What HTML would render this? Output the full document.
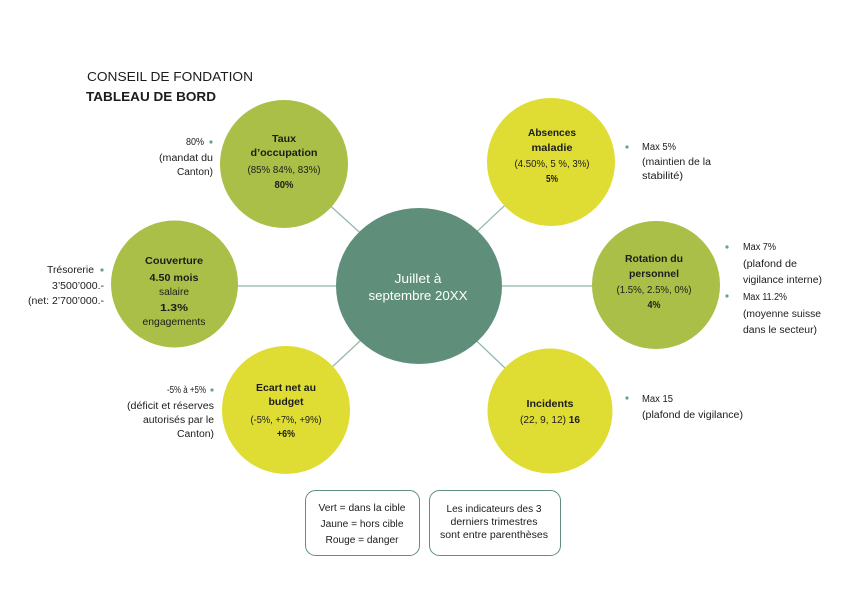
<!DOCTYPE html>
<html>
<head>
<meta charset="utf-8">
<style>
html,body{margin:0;padding:0;background:#fff;}
svg{display:block;}
text{font-family:"Liberation Sans",Arial,sans-serif;fill:#1c1c1c;}
.b{font-weight:bold;}
.c{text-anchor:middle;}
.r{text-anchor:end;}
</style>
</head>
<body>
<svg width="841" height="595" viewBox="0 0 841 595" xmlns="http://www.w3.org/2000/svg">
<rect width="841" height="595" fill="#fff"/>

<!-- title -->
<text x="87" y="81" font-size="13" textLength="166" lengthAdjust="spacingAndGlyphs">CONSEIL DE FONDATION</text>
<text x="86" y="101" font-size="13" class="b" textLength="130" lengthAdjust="spacingAndGlyphs">TABLEAU DE BORD</text>

<!-- connectors -->
<g stroke="#8fb5a8" stroke-width="1.2">
<line x1="419" y1="286" x2="284" y2="164"/>
<line x1="419" y1="286" x2="551" y2="162"/>
<line x1="419" y1="286" x2="174" y2="286"/>
<line x1="419" y1="286" x2="656" y2="286"/>
<line x1="419" y1="286" x2="286" y2="410"/>
<line x1="419" y1="286" x2="550" y2="411"/>
</g>

<!-- circles -->
<circle cx="284" cy="164" r="64" fill="#aabf47"/>
<circle cx="551" cy="162" r="64" fill="#dfdd34"/>
<circle cx="174.5" cy="284" r="63.5" fill="#aabf47"/>
<circle cx="656" cy="285" r="64" fill="#aabf47"/>
<circle cx="286" cy="410" r="64" fill="#dfdd34"/>
<circle cx="550" cy="411" r="62.5" fill="#dfdd34"/>
<ellipse cx="419" cy="286" rx="83" ry="78" fill="#5f8f7b"/>

<!-- center text -->
<text x="418" y="283" font-size="12.5" class="c" fill="#fff" style="fill:#fff" textLength="47" lengthAdjust="spacingAndGlyphs">Juillet à</text>
<text x="418" y="300" font-size="12.5" class="c" style="fill:#fff" textLength="99" lengthAdjust="spacingAndGlyphs">septembre 20XX</text>

<!-- Taux -->
<text x="284" y="142" font-size="10.5" class="b c" textLength="24" lengthAdjust="spacingAndGlyphs">Taux</text>
<text x="284" y="156" font-size="10.5" class="b c" textLength="67" lengthAdjust="spacingAndGlyphs">d’occupation</text>
<text x="284" y="173" font-size="10.5" class="c" textLength="73" lengthAdjust="spacingAndGlyphs">(85% 84%, 83%)</text>
<text x="284" y="188" font-size="10.5" class="b c" textLength="19" lengthAdjust="spacingAndGlyphs">80%</text>

<!-- Absences -->
<text x="552" y="136" font-size="10.5" class="b c" textLength="48" lengthAdjust="spacingAndGlyphs">Absences</text>
<text x="552" y="151" font-size="10.5" class="b c" textLength="41" lengthAdjust="spacingAndGlyphs">maladie</text>
<text x="552" y="167" font-size="10.5" class="c" textLength="75" lengthAdjust="spacingAndGlyphs">(4.50%, 5 %, 3%)</text>
<text x="552" y="182" font-size="10.5" class="b c" textLength="12" lengthAdjust="spacingAndGlyphs">5%</text>

<!-- Couverture -->
<text x="174" y="264" font-size="10.5" class="b c" textLength="58" lengthAdjust="spacingAndGlyphs">Couverture</text>
<text x="174" y="281" font-size="10.5" class="b c" textLength="49" lengthAdjust="spacingAndGlyphs">4.50 mois</text>
<text x="174" y="295" font-size="10.5" class="c" textLength="30" lengthAdjust="spacingAndGlyphs">salaire</text>
<text x="174" y="311" font-size="10.5" class="b c" textLength="28" lengthAdjust="spacingAndGlyphs">1.3%</text>
<text x="174" y="325" font-size="10.5" class="c" textLength="63" lengthAdjust="spacingAndGlyphs">engagements</text>

<!-- Rotation -->
<text x="654" y="262" font-size="10.5" class="b c" textLength="58" lengthAdjust="spacingAndGlyphs">Rotation du</text>
<text x="654" y="277" font-size="10.5" class="b c" textLength="50" lengthAdjust="spacingAndGlyphs">personnel</text>
<text x="654" y="293" font-size="10.5" class="c" textLength="75" lengthAdjust="spacingAndGlyphs">(1.5%, 2.5%, 0%)</text>
<text x="654" y="308" font-size="10.5" class="b c" textLength="13" lengthAdjust="spacingAndGlyphs">4%</text>

<!-- Ecart -->
<text x="286" y="391" font-size="10.5" class="b c" textLength="60" lengthAdjust="spacingAndGlyphs">Ecart net au</text>
<text x="286" y="405" font-size="10.5" class="b c" textLength="35" lengthAdjust="spacingAndGlyphs">budget</text>
<text x="286" y="423" font-size="10.5" class="c" textLength="71" lengthAdjust="spacingAndGlyphs">(-5%, +7%, +9%)</text>
<text x="286" y="437" font-size="10.5" class="b c" textLength="18" lengthAdjust="spacingAndGlyphs">+6%</text>

<!-- Incidents -->
<text x="550" y="407" font-size="10.5" class="b c" textLength="47" lengthAdjust="spacingAndGlyphs">Incidents</text>
<text x="550" y="423" font-size="10.5" class="c" textLength="60" lengthAdjust="spacingAndGlyphs">(22, 9, 12) <tspan font-weight="bold">16</tspan></text>

<!-- bullets -->
<g fill="#6f9e8e">
<circle cx="211" cy="142" r="1.6"/>
<circle cx="627" cy="147" r="1.6"/>
<circle cx="102" cy="270" r="1.6"/>
<circle cx="727" cy="247" r="1.6"/>
<circle cx="727" cy="296" r="1.6"/>
<circle cx="212" cy="390" r="1.6"/>
<circle cx="627" cy="398" r="1.6"/>
</g>

<!-- notes left -->
<text x="204" y="145" font-size="10" class="r" textLength="18" lengthAdjust="spacingAndGlyphs">80%</text>
<text x="213" y="161" font-size="10" class="r" textLength="54" lengthAdjust="spacingAndGlyphs">(mandat du</text>
<text x="213" y="175" font-size="10" class="r" textLength="36" lengthAdjust="spacingAndGlyphs">Canton)</text>

<text x="94" y="273" font-size="10" class="r" textLength="47" lengthAdjust="spacingAndGlyphs">Trésorerie</text>
<text x="104" y="289" font-size="10" class="r" textLength="52" lengthAdjust="spacingAndGlyphs">3’500’000.-</text>
<text x="104" y="304" font-size="10" class="r" textLength="76" lengthAdjust="spacingAndGlyphs">(net: 2’700’000.-</text>

<text x="206" y="393" font-size="10" class="r" textLength="39" lengthAdjust="spacingAndGlyphs">-5% à +5%</text>
<text x="214" y="409" font-size="10" class="r" textLength="87" lengthAdjust="spacingAndGlyphs">(déficit et réserves</text>
<text x="214" y="423" font-size="10" class="r" textLength="71" lengthAdjust="spacingAndGlyphs">autorisés par le</text>
<text x="214" y="437" font-size="10" class="r" textLength="37" lengthAdjust="spacingAndGlyphs">Canton)</text>

<!-- notes right -->
<text x="642" y="150" font-size="10" textLength="34" lengthAdjust="spacingAndGlyphs">Max 5%</text>
<text x="642" y="165" font-size="10" textLength="69" lengthAdjust="spacingAndGlyphs">(maintien de la</text>
<text x="642" y="179" font-size="10" textLength="41" lengthAdjust="spacingAndGlyphs">stabilité)</text>

<text x="743" y="250" font-size="10" textLength="33" lengthAdjust="spacingAndGlyphs">Max 7%</text>
<text x="743" y="267" font-size="10" textLength="54" lengthAdjust="spacingAndGlyphs">(plafond de</text>
<text x="743" y="283" font-size="10" textLength="79" lengthAdjust="spacingAndGlyphs">vigilance interne)</text>
<text x="743" y="300" font-size="10" textLength="44" lengthAdjust="spacingAndGlyphs">Max 11.2%</text>
<text x="743" y="317" font-size="10" textLength="78" lengthAdjust="spacingAndGlyphs">(moyenne suisse</text>
<text x="743" y="333" font-size="10" textLength="74" lengthAdjust="spacingAndGlyphs">dans le secteur)</text>

<text x="642" y="402" font-size="10" textLength="31" lengthAdjust="spacingAndGlyphs">Max 15</text>
<text x="642" y="418" font-size="10" textLength="101" lengthAdjust="spacingAndGlyphs">(plafond de vigilance)</text>

<!-- legend boxes -->
<rect x="305.5" y="490.5" width="114" height="65" rx="10" ry="10" fill="#fff" stroke="#5f8f7b" stroke-width="1"/>
<rect x="429.5" y="490.5" width="131" height="65" rx="10" ry="10" fill="#fff" stroke="#5f8f7b" stroke-width="1"/>
<text x="362" y="511" font-size="10" class="c" textLength="87" lengthAdjust="spacingAndGlyphs">Vert = dans la cible</text>
<text x="362" y="527" font-size="10" class="c" textLength="83" lengthAdjust="spacingAndGlyphs">Jaune = hors cible</text>
<text x="362" y="543" font-size="10" class="c" textLength="73" lengthAdjust="spacingAndGlyphs">Rouge = danger</text>
<text x="494" y="512" font-size="10" class="c" textLength="95" lengthAdjust="spacingAndGlyphs">Les indicateurs des 3</text>
<text x="494" y="525" font-size="10" class="c" textLength="87" lengthAdjust="spacingAndGlyphs">derniers trimestres</text>
<text x="494" y="538" font-size="10" class="c" textLength="108" lengthAdjust="spacingAndGlyphs">sont entre parenthèses</text>
</svg>
</body>
</html>
